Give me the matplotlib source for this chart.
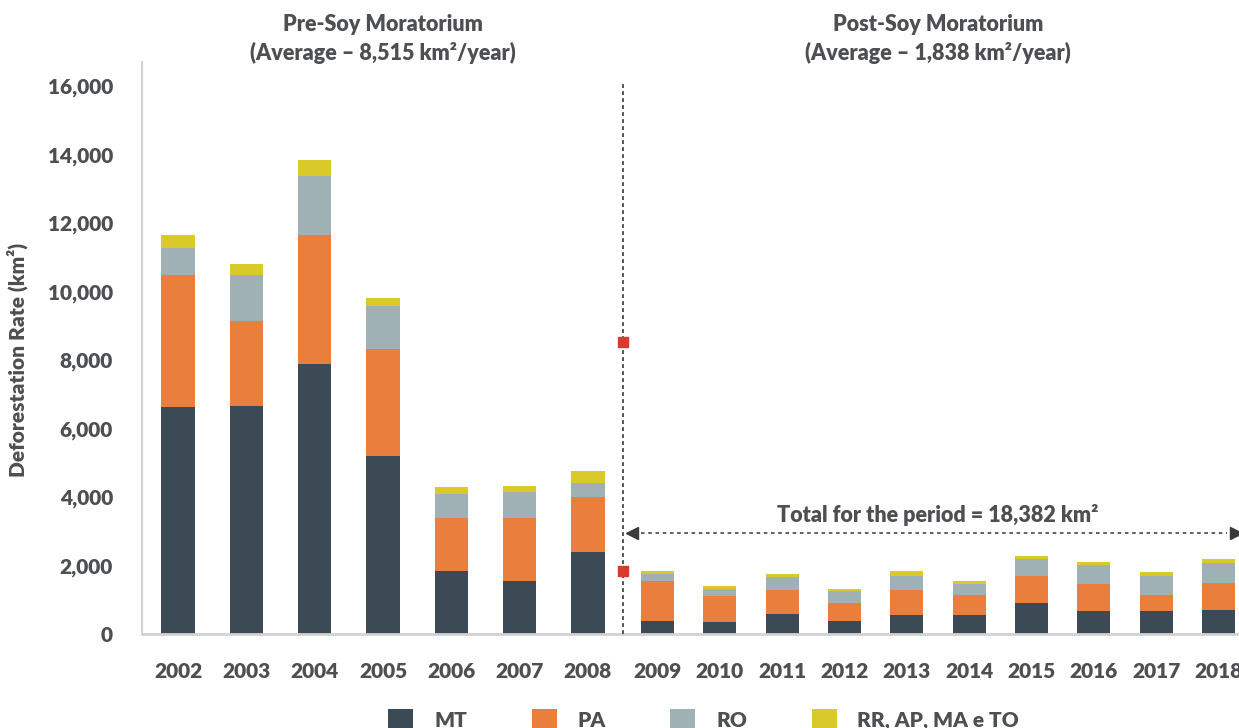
import matplotlib
matplotlib.use("Agg")
import matplotlib.pyplot as plt
from matplotlib.patches import Patch
from matplotlib.ticker import FuncFormatter

plt.rcParams['font.family'] = ['Lato', 'DejaVu Sans']

# ---------------- data ----------------
years_pre = ['2002', '2003', '2004', '2005', '2006', '2007', '2008']
mt_pre = [6640, 6670, 7880, 5200, 1840, 1550, 2390]
pa_pre = [3840, 2470, 3770, 3120, 1560, 1850, 1610]
ro_pre = [800, 1340, 1730, 1270, 700, 760, 410]
ot_pre = [370, 320, 460, 220, 190, 170, 350]

years_post = ['2009', '2010', '2011', '2012', '2013', '2014', '2015', '2016', '2017', '2018']
mt_post = [380, 350, 585, 380, 555, 555, 905, 670, 670, 700]
pa_post = [1170, 760, 700, 525, 730, 585, 790, 790, 470, 790]
ro_post = [215, 205, 380, 350, 410, 320, 495, 555, 555, 585]
ot_post = [80, 90, 90, 60, 145, 90, 90, 90, 115, 115]

series_names = ['MT', 'PA', 'RO', 'RR, AP, MA e TO']
colors = ['#3c4a55', '#ea7e3c', '#a0b1b6', '#d9ca2a']

pre_avg = 8515
post_avg = 1838
post_total = 18382

titles = ['Pre-Soy Moratorium\n(Average \u2013 8,515 km\u00b2/year)',
          'Post-Soy Moratorium\n(Average \u2013 1,838 km\u00b2/year)']

# ---------------- layout ----------------
W, H = 1239, 728
fig = plt.figure(figsize=(W / 100, H / 100), dpi=100)
ybot = (H - 634) / H
ytop = (H - 62) / H
ax1 = fig.add_axes([142 / W, ybot, (622.5 - 142) / W, ytop - ybot])
ax2 = fig.add_axes([622.5 / W, ybot, (1239 - 622.5) / W, ytop - ybot])

txt_col = '#4d4f53'
spine_col = '#d2d2d2'
WT = 'heavy'
YMAX = 16700


def stack(ax, years, series, width):
    x = list(range(len(years)))
    bottom = [0] * len(years)
    for vals, c in zip(series, colors):
        ax.bar(x, vals, width, bottom=bottom, color=c, zorder=2)
        bottom = [b + v for b, v in zip(bottom, vals)]
    ax.set_xticks(x)
    ax.set_xticklabels(years)


stack(ax1, years_pre, [mt_pre, pa_pre, ro_pre, ot_pre], 0.485)
stack(ax2, years_post, [mt_post, pa_post, ro_post, ot_post], 0.53)

ax1.set_xlim(-0.527, 6.505)
ax2.set_xlim(-0.562, 9.33)
for ax in (ax1, ax2):
    ax.set_ylim(0, YMAX)
    for s in ('top', 'right'):
        ax.spines[s].set_visible(False)
    ax.spines['bottom'].set_color(spine_col)
    ax.spines['bottom'].set_linewidth(2)
    ax.tick_params(axis='x', length=0, pad=20, labelsize=15, labelcolor=txt_col)
    for lab in ax.get_xticklabels():
        lab.set_fontweight(WT)

ax1.spines['left'].set_color(spine_col)
ax1.spines['left'].set_linewidth(1.5)
ax2.spines['left'].set_visible(False)
ax2.set_yticks([])

ax1.set_yticks(range(0, 16001, 2000))
ax1.yaxis.set_major_formatter(FuncFormatter(lambda v, p: f'{int(v):,}'))
ax1.tick_params(axis='y', length=0, pad=21, labelsize=15, labelcolor=txt_col)
for lab in ax1.get_yticklabels():
    lab.set_fontweight(WT)
ax1.set_ylabel('Deforestation Rate (km\u00b2)', fontsize=15, fontweight=WT,
               color=txt_col)
ax1.yaxis.set_label_coords(-0.237, 0.479)

# divider dotted line with average markers
x0 = ax2.get_xlim()[0]
ax2.plot([x0, x0], [0, 16050], color='#555555', lw=1.4, ls=(0, (2, 1.6)),
         clip_on=False, zorder=3)
ax2.plot([x0, x0], [pre_avg, post_avg], ls='none', marker='s', ms=7.5,
         color='#d63b2f', clip_on=False, zorder=5)

# period arrow
ya = 2950
xa0, xa1 = -0.41, 9.28
ax2.plot([xa0 + 0.15, xa1 - 0.15], [ya, ya], color='#555555', lw=1.3,
         ls=(0, (2, 2)), clip_on=False, zorder=3)
ax2.plot([xa0], [ya], marker='<', ms=9, color='#3a3a3a', ls='none', clip_on=False)
ax2.plot([xa1], [ya], marker='>', ms=9, color='#3a3a3a', ls='none', clip_on=False)
ax2.text(4.50, 3480, f'Total for the period = {post_total:,} km\u00b2', ha='center',
         va='center', fontsize=15.5, fontweight=WT, color=txt_col)

# titles
fig.text(383 / W, 1 - 39 / H, titles[0], ha='center', va='center', fontsize=15.5,
         fontweight=WT, color=txt_col, linespacing=1.38)
fig.text(938 / W, 1 - 39 / H, titles[1], ha='center', va='center', fontsize=15.5,
         fontweight=WT, color=txt_col, linespacing=1.38)

# legend
handles = [Patch(facecolor=c, edgecolor='none') for c in colors]
fig.legend(handles, series_names, loc='lower center', ncol=4,
           bbox_to_anchor=(0.568, -0.029), frameon=False, handlelength=1.2,
           handleheight=1.2, handletextpad=1.0, columnspacing=3.1,
           prop={'size': 15, 'weight': WT}, labelcolor=txt_col)

fig.savefig('out.png', dpi=100)
